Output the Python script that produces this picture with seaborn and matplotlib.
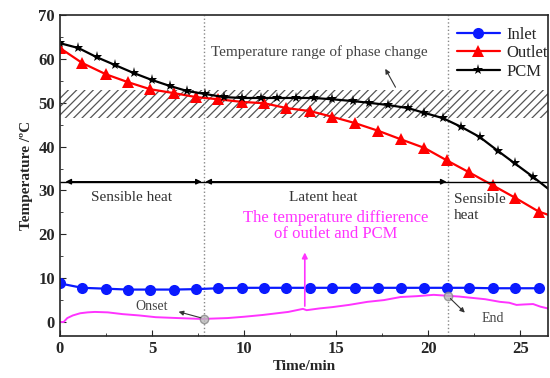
import pandas as pd
import matplotlib
matplotlib.use("Agg")
import matplotlib.pyplot as plt
from matplotlib.ticker import MultipleLocator
import seaborn as sns

# data
t_io = [0, 1.2, 2.5, 3.7, 4.9, 6.2, 7.4, 8.6, 9.9, 11.1, 12.3, 13.6, 14.8, 16.0,
        17.3, 18.5, 19.8, 21.0, 22.2, 23.5, 24.7, 26.0]
inlet = [8.8, 7.8, 7.6, 7.4, 7.4, 7.4, 7.5, 7.7, 7.8, 7.8, 7.8, 7.8, 7.8, 7.8,
         7.8, 7.8, 7.8, 7.8, 7.8, 7.7, 7.7, 7.7]
outlet = [62.5, 59.1, 56.5, 54.7, 53.1, 52.2, 51.3, 50.8, 50.2, 49.9, 48.8, 48.1,
          46.8, 45.4, 43.6, 41.7, 39.7, 36.9, 34.2, 31.2, 28.4, 25.2]
t_pcm = [0, 1.0, 2.0, 3.0, 4.0, 5.0, 6.0, 6.9, 7.9, 8.9, 9.9, 10.9, 11.8, 12.8,
         13.8, 14.8, 15.9, 16.8, 17.8, 18.9, 19.8, 20.8, 21.8, 22.8, 23.8, 24.7, 25.7]
pcm = [63.6, 62.5, 60.4, 58.6, 56.8, 55.2, 53.8, 52.7, 52.0, 51.3, 51.1, 51.1,
       51.1, 51.1, 51.1, 50.8, 50.4, 50.0, 49.5, 48.8, 47.7, 46.5, 44.5, 42.2,
       39.0, 36.2, 33.1]
t_diff = [0, 0.2, 0.4, 0.7, 1.1, 1.5, 1.9, 2.6, 3.4, 4.3, 5.2, 6.4, 7.7, 8.4,
          9.1, 10.0, 11.0, 11.8, 12.4, 13.2, 13.4, 14.1, 14.8, 15.7, 16.7, 17.6,
          18.5, 19.4, 20.3, 21.0, 21.7, 22.4, 23.1, 23.9, 24.4, 24.8, 25.2, 25.7,
          26.1, 26.6]
diff = [0.0, 0.0, 0.9, 1.5, 2.0, 2.2, 2.3, 2.2, 1.8, 1.5, 1.1, 0.9, 0.7, 0.8,
        0.9, 1.2, 1.6, 2.0, 2.3, 3.0, 2.7, 3.1, 3.4, 3.9, 4.6, 5.0, 5.7, 5.9, 6.2,
        6.0, 5.8, 5.5, 5.2, 4.6, 4.4, 3.9, 4.0, 4.1, 3.5, 3.0]

band_low, band_high = 46.5, 53.0
onset_t, end_t = 7.8, 21.1

rows = ([("Inlet", a, b) for a, b in zip(t_io, inlet)]
        + [("Outlet", a, b) for a, b in zip(t_io, outlet)]
        + [("PCM", a, b) for a, b in zip(t_pcm, pcm)])
df = pd.DataFrame(rows, columns=["series", "time", "temp"])

sns.set_style("ticks")
plt.rcParams["font.family"] = ["Liberation Serif", "DejaVu Serif"]
plt.rcParams["hatch.linewidth"] = 0.9

fig = plt.figure(figsize=(5.5, 3.78), dpi=100)
ax = fig.add_axes([0.109, 0.111, 0.887, 0.849])

# hatched phase-change band
ax.fill_between([0, 27], band_low, band_high, facecolor="none", edgecolor="#555555",
                hatch="////", linewidth=0)

for xv in (onset_t, end_t):
    ax.axvline(xv, color="#888888", ls=":", lw=1)

sns.lineplot(data=df, x="time", y="temp", hue="series", style="series",
             palette={"Inlet": "#0a1aff", "Outlet": "#ff0000", "PCM": "black"},
             markers={"Inlet": "o", "Outlet": "^", "PCM": "*"}, dashes=False,
             markersize=8, markeredgewidth=0, linewidth=1.6, sort=False,
             estimator=None, ax=ax)

# extend the ends of outlet/pcm lines to the right edge (no markers)
ax.plot([t_io[-1], 26.7], [outlet[-1], 24.2], color="#ff0000", lw=1.6)
ax.plot([t_pcm[-1], 26.7], [pcm[-1], 29.8], color="black", lw=1.6)

ax.plot(t_diff, diff, color="#ff33ff", lw=1.4)
ax.plot([onset_t, end_t], [0.7, 6.0], ls="none", marker="o", ms=6,
        mfc="#bbbbbb", mec="#888888", alpha=0.8)

# region arrows
y_arr = 32.0
ax.axhline(y_arr, color="black", lw=1)
for x0, x1 in [(0.3, onset_t - 0.1), (onset_t + 0.1, end_t - 0.1), (end_t + 0.1, 26.6)]:
    ax.annotate("", xy=(x1, y_arr), xytext=(x0, y_arr),
                arrowprops=dict(arrowstyle="<|-|>", color="black", lw=1,
                                mutation_scale=8, shrinkA=0, shrinkB=0))

ax.text(3.9, 28.4, "Sensible heat", fontsize=11, color="#333333", ha="center", va="center")
ax.text(14.3, 28.4, "Latent heat", fontsize=11, color="#333333", ha="center", va="center")
ax.text(21.4, 26.1, "Sensible\nheat", fontsize=11, color="#333333", ha="left",
        va="center", linespacing=1.35)

ax.text(8.2, 61.5, "Temperature range of phase change", fontsize=11, color="#444444",
        ha="left", va="center")
ax.annotate("", xy=(17.6, 58.3), xytext=(18.3, 53.0),
            arrowprops=dict(arrowstyle="-|>", color="#333333", lw=0.8, mutation_scale=7))

ax.text(15.0, 21.9, "The temperature diffierence\nof outlet and PCM", fontsize=12,
        color="#ff33ff", ha="center", va="center", linespacing=1.0)
ax.annotate("", xy=(13.3, 16.5), xytext=(13.3, 3.0),
            arrowprops=dict(arrowstyle="-|>", color="#ff33ff", lw=1.2, mutation_scale=8))

ax.text(5.0, 3.6, "Onset", fontsize=10, color="#444444", ha="center", va="center")
ax.annotate("", xy=(6.3, 2.5), xytext=(onset_t, 0.8),
            arrowprops=dict(arrowstyle="-|>", color="#333333", lw=0.8, mutation_scale=7))
ax.text(22.9, 0.9, "End", fontsize=10, color="#444444", ha="left", va="center")
ax.annotate("", xy=(22.1, 1.7), xytext=(end_t, 5.8),
            arrowprops=dict(arrowstyle="-|>", color="#333333", lw=0.8, mutation_scale=7))

ax.set_xlim(0, 26.5)
ax.set_ylim(-3.2, 70)
ax.xaxis.set_major_locator(MultipleLocator(5))
ax.xaxis.set_minor_locator(MultipleLocator(2.5))
ax.yaxis.set_major_locator(MultipleLocator(10))
ax.yaxis.set_minor_locator(MultipleLocator(5))
ax.tick_params(which="both", direction="in", top=False, right=False)
ax.tick_params(which="major", length=4, labelsize=12)
ax.tick_params(which="minor", length=2)
for lab in ax.get_xticklabels() + ax.get_yticklabels():
    lab.set_fontweight("bold")
for sp in ax.spines.values():
    sp.set_visible(True)
    sp.set_linewidth(1.2)

ax.set_xlabel("Time/min", fontsize=11, fontweight="bold", labelpad=2)
ax.set_ylabel("Temperature /ºC", fontsize=11, fontweight="semibold")

leg = ax.legend(loc="upper right", bbox_to_anchor=(1.025, 1.0), frameon=False,
                fontsize=12, handlelength=2.6, labelspacing=0.15, borderpad=0.2,
                handletextpad=0.4, title=None)

fig.savefig("out.png", dpi=100)
